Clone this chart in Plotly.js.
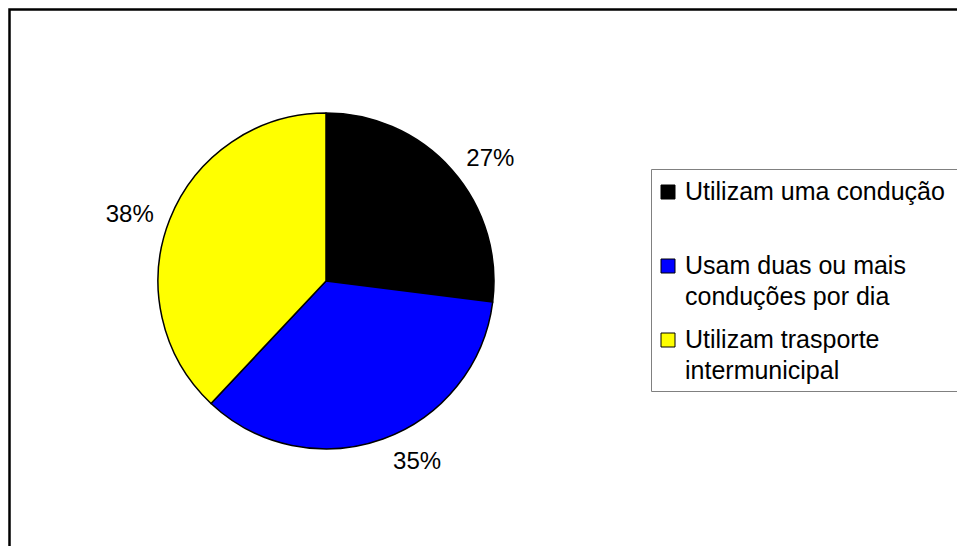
<!DOCTYPE html>
<html>
<head>
<meta charset="utf-8">
<script src="https://cdn.plot.ly/plotly-3.0.1.min.js"></script>
<style>html,body{margin:0;padding:0;background:#fff;}#chart{width:957px;height:546px;}</style>
</head>
<body>
<div id="chart"></div>
<script>
// Data
const categories = ['Utilizam uma condução', 'Usam duas ou mais conduções por dia', 'Utilizam trasporte intermunicipal'];
const legendLines = [['Utilizam uma condução'], ['Usam duas ou mais', 'conduções por dia'], ['Utilizam trasporte', 'intermunicipal']];
const values = [27, 35, 38];
const colors = ['#000000', '#0000FF', '#FFFF00'];

const W = 957, H = 546;
const px = x => x / W;
const py = y => 1 - y / H;

const FONT = 'Liberation Sans, Arial, sans-serif';

const shapes = [
  // outer chart-area border
  {type: 'rect', xref: 'paper', yref: 'paper', x0: px(9.5), x1: px(975), y0: py(9.5), y1: py(570),
   line: {color: '#000', width: 2.5}, fillcolor: 'rgba(0,0,0,0)'},
  // legend box
  {type: 'rect', xref: 'paper', yref: 'paper', x0: px(651.5), x1: px(975), y0: py(169.5), y1: py(391.5),
   line: {color: '#808080', width: 1}, fillcolor: 'rgba(0,0,0,0)'}
];
const annotations = [];
const itemTop = 191, itemStep = 74, lineStep = 30.5;
legendLines.forEach((lines, i) => {
  const yc = itemTop + i * itemStep;
  shapes.push({type: 'rect', xref: 'paper', yref: 'paper',
    x0: px(661), x1: px(675), y0: py(yc - 6), y1: py(yc + 8),
    line: {color: '#000', width: 1}, fillcolor: colors[i]});
  lines.forEach((t, j) => {
    annotations.push({xref: 'paper', yref: 'paper', x: px(683), y: py(yc + j * lineStep),
      xanchor: 'left', yanchor: 'middle', showarrow: false, text: t,
      font: {family: FONT, size: 25, color: '#000'}});
  });
});

// Pie geometry (pixels): centre (326, 281), radius 168
const cx = 326, cy = 281, R = 168, labelR = 178;

// Transparent carrier pie, slightly larger, that holds the percentage labels
const labelTrace = {
  type: 'pie',
  labels: categories,
  values: values,
  sort: false,
  direction: 'clockwise',
  rotation: 0,
  marker: {colors: ['rgba(0,0,0,0)', 'rgba(0,0,0,0)', 'rgba(0,0,0,0)'], line: {width: 0}},
  textinfo: 'percent',
  textposition: 'outside',
  outsidetextfont: {family: FONT, size: 24, color: '#000'},
  domain: {x: [px(cx - labelR), px(cx + labelR)], y: [py(cy + labelR), py(cy - labelR)]},
  showlegend: false,
  hoverinfo: 'skip'
};

const trace = {
  type: 'pie',
  labels: categories,
  values: values,
  sort: false,
  direction: 'clockwise',
  rotation: 0,
  marker: {colors: colors, line: {color: '#000', width: 1.5}},
  textinfo: 'none',
  domain: {x: [px(cx - R), px(cx + R)], y: [py(cy + R), py(cy - R)]},
  showlegend: false,
  hoverinfo: 'label+percent'
};

Plotly.newPlot('chart', [labelTrace, trace], {
  width: W, height: H,
  margin: {l: 0, r: 0, t: 0, b: 0},
  paper_bgcolor: '#fff',
  font: {family: FONT, size: 24, color: '#000'},
  showlegend: false,
  shapes: shapes,
  annotations: annotations
}, {displayModeBar: false});
</script>
</body>
</html>
